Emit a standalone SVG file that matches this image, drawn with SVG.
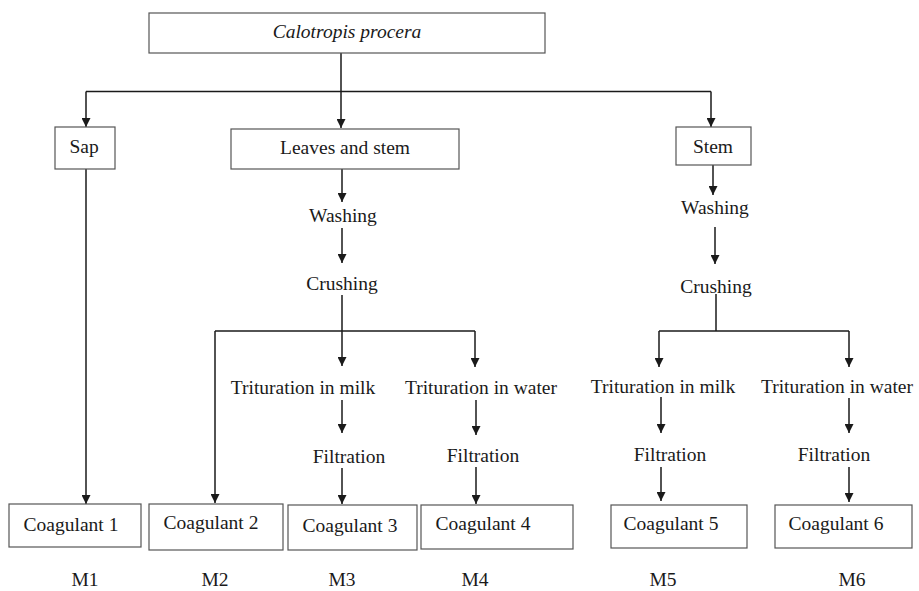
<svg xmlns="http://www.w3.org/2000/svg" width="919" height="591" viewBox="0 0 919 591">
<defs>
<marker id="ah" viewBox="0 0 10 10" refX="10" refY="5" markerWidth="9" markerHeight="9" markerUnits="userSpaceOnUse" orient="auto">
<path d="M0,0 L10,5 L0,10 Z" fill="#1a1a1a"/>
</marker>
<style>
.box{fill:#fff;stroke:#555;stroke-width:1.2}
.t{font-family:"Liberation Serif","Times New Roman","DejaVu Serif",serif;font-size:19.5px;fill:#1a1a1a;text-anchor:middle}
.i{font-style:italic}
.c{fill:none;stroke:#1a1a1a;stroke-width:1.5}
.a{fill:none;stroke:#1a1a1a;stroke-width:1.5;marker-end:url(#ah)}
</style>
</defs>
<rect width="919" height="591" fill="#fff"/>
<g id="connectors">
<path class="c" d="M341,53 V91.5"/>
<path class="c" d="M86,91.5 H711"/>
<path class="a" d="M86,91.5 V127"/>
<path class="a" d="M341,91.5 V128"/>
<path class="a" d="M711,91.5 V127"/>
<path class="a" d="M86,169 V504"/>
<path class="a" d="M342,165 V202"/>
<path class="a" d="M342,228 V263"/>
<path class="c" d="M342,295 V331"/>
<path class="c" d="M215,331 H475"/>
<path class="a" d="M215,331 V503"/>
<path class="a" d="M342,331 V366"/>
<path class="a" d="M475,331 V367"/>
<path class="a" d="M342,400 V433"/>
<path class="a" d="M342,468 V504"/>
<path class="a" d="M476,400 V435"/>
<path class="a" d="M476,467 V504"/>
<path class="a" d="M713,165 V195"/>
<path class="a" d="M715,227 V264"/>
<path class="c" d="M716,294 V331"/>
<path class="c" d="M659,331 H849"/>
<path class="a" d="M659,331 V367"/>
<path class="a" d="M849,331 V367"/>
<path class="a" d="M661,397 V433"/>
<path class="a" d="M661,467 V501"/>
<path class="a" d="M849,398 V433"/>
<path class="a" d="M849,467 V502"/>
</g>
<g id="calotropis"><rect class="box" x="149" y="13" width="396" height="40"/><text class="t i" x="347" y="38">Calotropis procera</text></g>
<g id="sap"><rect class="box" x="55" y="127" width="60" height="42"/><text class="t" x="84" y="153">Sap</text></g>
<g id="leaves"><rect class="box" x="231" y="129" width="228" height="40"/><text class="t" x="345" y="154">Leaves and stem</text></g>
<g id="stem"><rect class="box" x="676" y="127" width="75" height="38"/><text class="t" x="713" y="153">Stem</text></g>
<g id="washing1"><text class="t" x="343" y="222">Washing</text></g>
<g id="crushing1"><text class="t" x="342" y="290">Crushing</text></g>
<g id="trit-milk1"><text class="t" x="303" y="394">Trituration in milk</text></g>
<g id="trit-water1"><text class="t" x="481" y="394">Trituration in water</text></g>
<g id="filt3"><text class="t" x="349" y="463">Filtration</text></g>
<g id="filt4"><text class="t" x="483" y="462">Filtration</text></g>
<g id="washing2"><text class="t" x="715" y="214">Washing</text></g>
<g id="crushing2"><text class="t" x="716" y="293">Crushing</text></g>
<g id="trit-milk2"><text class="t" x="663" y="393">Trituration in milk</text></g>
<g id="trit-water2"><text class="t" x="837" y="393">Trituration in water</text></g>
<g id="filt5"><text class="t" x="670" y="461">Filtration</text></g>
<g id="filt6"><text class="t" x="834" y="461">Filtration</text></g>
<g id="coag1"><rect class="box" x="9" y="504" width="132" height="43"/><text class="t" x="71" y="531">Coagulant 1</text></g>
<g id="coag2"><rect class="box" x="149" y="504" width="134" height="46"/><text class="t" x="211" y="529">Coagulant 2</text></g>
<g id="coag3"><rect class="box" x="288" y="505" width="129" height="45"/><text class="t" x="350" y="532">Coagulant 3</text></g>
<g id="coag4"><rect class="box" x="421" y="505" width="152" height="44"/><text class="t" x="483" y="530">Coagulant 4</text></g>
<g id="coag5"><rect class="box" x="611" y="505" width="136" height="43"/><text class="t" x="671" y="530">Coagulant 5</text></g>
<g id="coag6"><rect class="box" x="775" y="505" width="137" height="43"/><text class="t" x="836" y="530">Coagulant 6</text></g>
<g id="m1"><text class="t" x="85" y="586">M1</text></g>
<g id="m2"><text class="t" x="215" y="586">M2</text></g>
<g id="m3"><text class="t" x="342" y="586">M3</text></g>
<g id="m4"><text class="t" x="475" y="586">M4</text></g>
<g id="m5"><text class="t" x="663" y="586">M5</text></g>
<g id="m6"><text class="t" x="852" y="586">M6</text></g>
</svg>
